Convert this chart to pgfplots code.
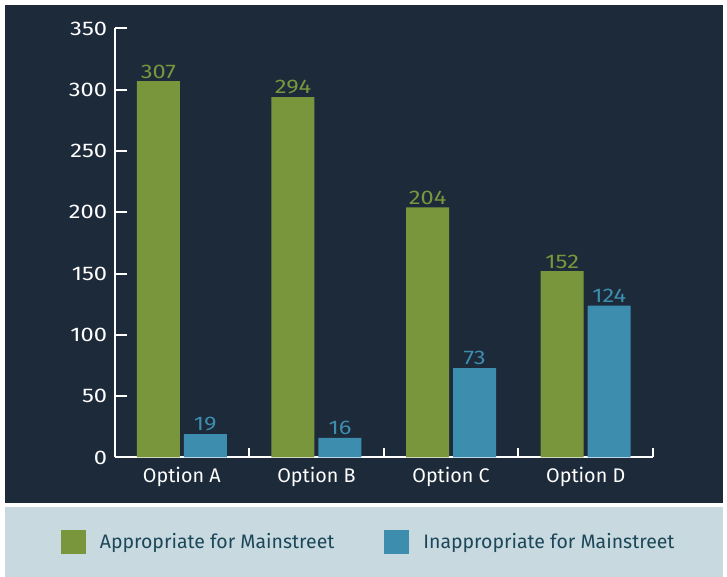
\documentclass[border=0pt]{standalone}
\usepackage{fontspec}
\setmainfont{Fira Sans}
\newfontfamily\numfont[FakeStretch=1.2]{Fira Sans}
\usepackage{pgfplots}
\pgfplotsset{compat=1.18}
\definecolor{bgdark}{HTML}{1D2A3A}
\definecolor{cgreen}{HTML}{7A963D}
\definecolor{cblue}{HTML}{3D8DAF}
\definecolor{legbg}{HTML}{C8D9E0}
\definecolor{legtext}{HTML}{1B4759}
\newcommand{\chfont}{\fontsize{14.8}{17}\selectfont}
\newcommand{\lfont}{\fontsize{14.6}{17}\selectfont}
\newcommand{\nfont}{\numfont\fontsize{14.8}{17}\selectfont}
\begin{document}
\begin{tikzpicture}[x=0.75pt,y=0.75pt]
\fill[white] (0,0) rectangle (727,577);
\fill[bgdark] (5,74) rectangle (723,572);
\fill[legbg] (5,0) rectangle (723,70);
\begin{axis}[
  at={(85.875pt,89.625pt)}, anchor=south west,
  scale only axis, width=403.9pt, height=321.75pt,
  xmin=-0.5, xmax=3.5, ymin=0, ymax=350,
  axis lines=left, axis line style={-, white, line width=1.5pt},
  ybar, bar width=32.25pt,
  xtick={0,1,2,3}, xticklabels={Option A,Option B,Option C,Option D},
  major x tick style={draw=none},
  minor xtick={-0.5,0.5,1.5,2.5,3.5}, minor tick length=6.75pt,
  minor x tick style={white, line width=1.5pt},
  ytick={0,50,...,350}, major tick length=9pt, tick align=inside,
  y tick style={white, line width=1.5pt},
  tick label style={font=\chfont, text=white},
  /pgf/number format/assume math mode=true,
  yticklabel style={font=\nfont, xshift=-2pt},
  xticklabel style={yshift=-3.5pt},
  nodes near coords style={font=\nfont, inner sep=2pt},
  legend style={at={(axis description cs:0.4727,-0.197)}, anchor=center,
    draw=none, fill=none, legend columns=2, font=\lfont, text=legtext,
    /tikz/every even column/.append style={column sep=35.5pt}},
]
\addplot[fill=cgreen, draw=none, bar shift=-17.625pt, nodes near coords,
  every node near coord/.append style={text=cgreen}, forget plot]
  coordinates {(0,307) (1,294) (2,204) (3,152)};
\addplot[fill=cblue, draw=none, bar shift=17.625pt, nodes near coords,
  every node near coord/.append style={text=cblue}, forget plot]
  coordinates {(0,19) (1,16) (2,73) (3,124)};
\addlegendimage{legend image code/.code={\fill[cgreen] (0pt,-8.6pt) rectangle (18pt,8.6pt); \path[draw=none] (0pt,0pt) -- (27pt,0pt);}}
\addlegendentry{Appropriate for Mainstreet}
\addlegendimage{legend image code/.code={\fill[cblue] (0pt,-8.6pt) rectangle (18pt,8.6pt); \path[draw=none] (0pt,0pt) -- (27pt,0pt);}}
\addlegendentry{Inappropriate for Mainstreet}
\end{axis}
\end{tikzpicture}
\end{document}
